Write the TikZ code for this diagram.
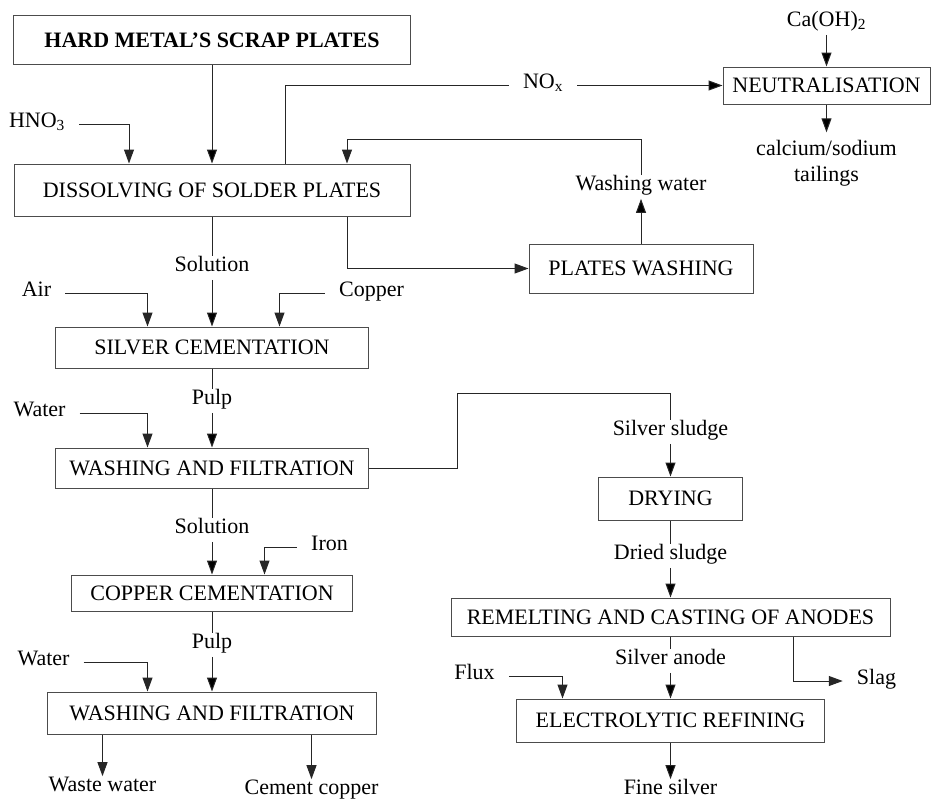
\documentclass[tikz,border=0pt]{standalone}
\usepackage{fontspec}
\setmainfont{Liberation Serif}
\usetikzlibrary{positioning, arrows.meta}

\begin{document}
\begin{tikzpicture}[node distance=100pt, on grid,
    font=\fontsize{22pt}{26pt}\selectfont,
    proc/.style={draw=black!70, line width=1pt, inner sep=0pt},
    lbl/.style={inner xsep=14pt, inner ysep=8pt, text height=0.68em, text depth=0.05em},
    line/.style={draw=black!85, line width=1pt},
    flow/.style={line, -{Triangle[length=14pt, width=10pt]}}]
  \useasboundingbox (0pt,0pt) rectangle (933pt,-801pt);

  % process boxes
  \node[proc, minimum width=397pt, minimum height=49pt] (hard) at (212pt,-40pt) {\bfseries HARD METAL’S SCRAP PLATES};
  \node[proc, minimum width=396pt, minimum height=52pt] (dissolve) [below=150pt of hard] {DISSOLVING OF SOLDER PLATES};
  \node[proc, minimum width=207pt, minimum height=37pt] (neutral) [above right=104.5pt and 614.5pt of dissolve] {NEUTRALISATION};
  \node[proc, minimum width=224pt, minimum height=49pt] (washplates) [below right=78.5pt and 429pt of dissolve] {PLATES WASHING};
  \node[proc, minimum width=313pt, minimum height=41pt] (silver) [below=157.5pt of dissolve] {SILVER CEMENTATION};
  \node[proc, minimum width=313pt, minimum height=40pt] (wash1) [below=120.5pt of silver] {WASHING AND FILTRATION};
  \node[proc, minimum width=281pt, minimum height=36pt] (copper) [below=125pt of wash1] {COPPER CEMENTATION};
  \node[proc, minimum width=329pt, minimum height=42pt] (wash2) [below=120pt of copper] {WASHING AND FILTRATION};
  \node[proc, minimum width=144pt, minimum height=43pt] (drying) [below right=30.5pt and 458.5pt of wash1] {DRYING};
  \node[proc, minimum width=439pt, minimum height=38pt] (remelt) [below=118.5pt of drying] {REMELTING AND CASTING OF ANODES};
  \node[proc, minimum width=308pt, minimum height=43pt] (refine) [below=103.5pt of remelt] {ELECTROLYTIC REFINING};

  % stream labels
  \node[lbl] (hno) [above left=66pt and 175pt of dissolve] {HNO\textsubscript{3}};
  \node[lbl] (nox) [left=283.5pt of neutral] {NO\textsubscript{x}};
  \node[lbl] (caoh) [above=62.5pt of neutral] {Ca(OH)\textsubscript{2}};
  \node[inner sep=8pt, align=center] (tail) [below=78pt of neutral] {calcium/sodium\\tailings};
  \node[lbl] (wwater) [above=81.5pt of washplates] {Washing water};
  \node[lbl] (sol1) [below=78pt of dissolve] {Solution};
  \node[lbl] (air) [above left=54.5pt and 175.5pt of silver] {Air};
  \node[lbl] (cu) [above right=54.5pt and 159.5pt of silver] {Copper};
  \node[lbl] (pulp1) [below=53.5pt of silver] {Pulp};
  \node[lbl] (water1) [above left=55pt and 172.5pt of wash1] {Water};
  \node[lbl] (ssludge) [above=66.5pt of drying] {Silver sludge};
  \node[lbl] (dsludge) [below=57.5pt of drying] {Dried sludge};
  \node[lbl] (sol2) [below=62pt of wash1] {Solution};
  \node[lbl] (iron) [above right=46pt and 117.5pt of copper] {Iron};
  \node[lbl] (pulp2) [below=52pt of copper] {Pulp};
  \node[lbl] (water2) [above left=51pt and 168.5pt of wash2] {Water};
  \node[lbl] (waste) [below left=75pt and 109.5pt of wash2] {Waste water};
  \node[lbl] (cement) [below right=78pt and 99.5pt of wash2] {Cement copper};
  \node[lbl] (sanode) [below=44pt of remelt] {Silver anode};
  \node[lbl] (flux) [above left=44.5pt and 196pt of refine] {Flux};
  \node[lbl] (slag) [above right=39.5pt and 206pt of refine] {Slag};
  \node[lbl] (fine) [below=70.5pt of refine] {Fine silver};

  \path[flow]
    (hard) edge (dissolve)
    (nox) edge (neutral)
    (caoh) edge (neutral)
    (neutral) edge (tail)
    (washplates) edge (wwater)
    (sol1) edge (silver)
    (pulp1) edge (wash1)
    (ssludge) edge (drying)
    (dsludge) edge (remelt)
    (sanode) edge (refine)
    (refine) edge (fine)
    (sol2) edge (copper)
    (pulp2) edge (wash2);
  \path[line]
    (dissolve) edge (sol1)
    (silver) edge (pulp1)
    (wash1) edge (sol2)
    (copper) edge (pulp2)
    (drying) edge (dsludge)
    (remelt) edge (sanode);

  \draw[flow] (hno) -| ([xshift=-83pt]dissolve.north);
  \draw[line] ([xshift=73pt]dissolve.north) |- (nox);
  \draw[flow] ([xshift=135pt]dissolve.south) |- (washplates);
  \draw[flow] (wwater) -- ++(0,48pt) -| ([xshift=135pt]dissolve.north);
  \draw[flow] (air) -| ([xshift=-64.5pt]silver.north);
  \draw[flow] (cu) -| ([xshift=67.5pt]silver.north);
  \draw[flow] (water1) -| ([xshift=-64.5pt]wash1.north);
  \draw[line] (wash1.east) -- ++(88pt,0) |- ([yshift=39pt]ssludge.center) -- (ssludge);
  \draw[flow] (iron) -| ([xshift=52.5pt]copper.north);
  \draw[flow] (water2) -| ([xshift=-64.5pt]wash2.north);
  \draw[flow] ([xshift=-109.5pt]wash2.south) -- (waste);
  \draw[flow] ([xshift=99.5pt]wash2.south) -- (cement);
  \draw[flow] (flux) -| ([xshift=-108pt]refine.north);
  \draw[flow] ([xshift=122.5pt]remelt.south) |- (slag);
\end{tikzpicture}
\end{document}
